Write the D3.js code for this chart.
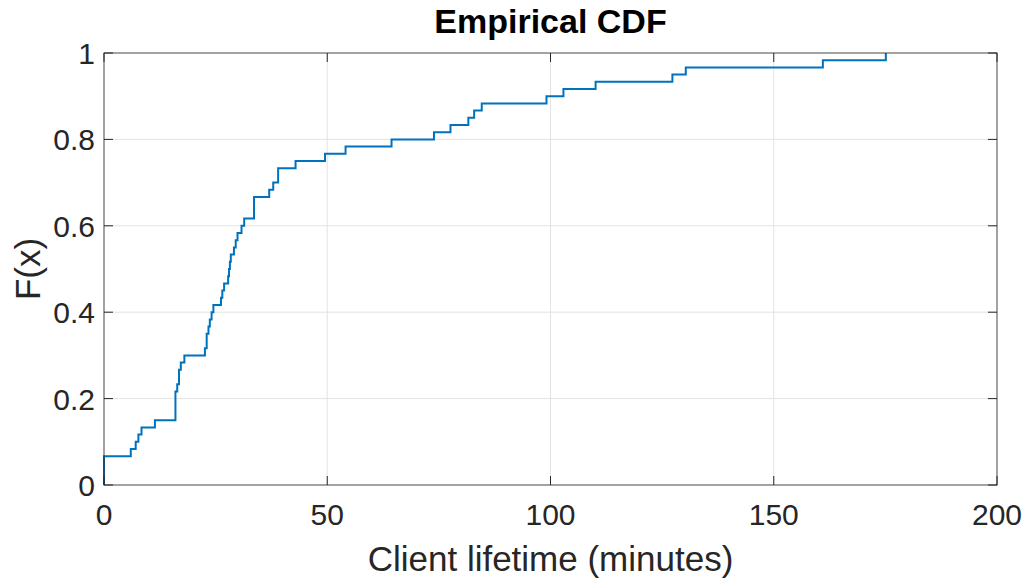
<!DOCTYPE html>
<html><head><meta charset="utf-8">
<script src="https://cdn.jsdelivr.net/npm/d3@7"></script>
<style>body{margin:0;background:#fff}svg{display:block}</style>
</head><body>
<svg id="c" width="1033" height="580"></svg>
<script>
// Sample values (client lifetime, minutes)
const samples = [0,0,0,0,6.0,7.1,7.7,8.4,11.4,
  16.0,16.0,16.0,16.0,16.4,16.8,16.8,17.2,18.0,
  22.6,23.0,23.0,23.4,23.7,24.1,24.5,26.2,26.5,26.9,27.8,28.0,28.2,28.4,29.1,29.5,29.9,30.8,31.4,
  33.6,33.6,33.6,37.0,37.9,39.0,39.0,42.9,49.5,54.1,64.4,73.9,77.6,81.6,82.9,84.6,
  99.1,102.9,110.1,127.3,130.3,161.0,175.1];
const xTicks = [0,50,100,150,200];
const yTicks = [0,0.2,0.4,0.6,0.8,1];
const yTickLabels = ["0","0.2","0.4","0.6","0.8","1"];
const titleText = "Empirical CDF";
const xLabelText = "Client lifetime (minutes)";
const yLabelText = "F(x)";

const svg = d3.select("#c");
const L=104, R=997, T=53, B=485;
const x = d3.scaleLinear().domain([0,200]).range([L,R]);
const y = d3.scaleLinear().domain([0,1]).range([B,T]);
const txt = "#262626", font = "'Liberation Sans', Arial, Helvetica, sans-serif";

// ECDF points
const sorted = samples.slice().sort((a,b)=>a-b);
const n = sorted.length;
const uniq = Array.from(new Set(sorted));
const pts = [[uniq[0],0]].concat(uniq.map(v=>[v, d3.bisectRight(sorted,v)/n]));

// grid
const g = svg.append("g");
g.selectAll("line.gx").data(xTicks.slice(1,-1)).join("line")
  .attr("x1",d=>x(d)).attr("x2",d=>x(d)).attr("y1",T).attr("y2",B)
  .attr("stroke","#e3e3e3").attr("stroke-width",1);
g.selectAll("line.gy").data(yTicks.slice(1,-1)).join("line")
  .attr("x1",L).attr("x2",R).attr("y1",d=>y(d)).attr("y2",d=>y(d))
  .attr("stroke","#e3e3e3").attr("stroke-width",1);

// data line
svg.append("path").datum(pts)
  .attr("d", d3.line().x(d=>x(d[0])).y(d=>y(d[1])).curve(d3.curveStepAfter))
  .attr("fill","none").attr("stroke","#0072BD").attr("stroke-width",2);

// box
svg.append("rect").attr("x",L).attr("y",T).attr("width",R-L).attr("height",B-T)
  .attr("fill","none").attr("stroke","#262626").attr("stroke-width",1).attr("opacity",0.85);

// ticks (inward, all sides)
const tl = 9;
xTicks.forEach(t=>{
  svg.append("line").attr("x1",x(t)).attr("x2",x(t)).attr("y1",B).attr("y2",B-tl).attr("stroke","#262626");
  svg.append("line").attr("x1",x(t)).attr("x2",x(t)).attr("y1",T).attr("y2",T+tl).attr("stroke","#262626");
});
yTicks.forEach(t=>{
  svg.append("line").attr("x1",L).attr("x2",L+tl).attr("y1",y(t)).attr("y2",y(t)).attr("stroke","#262626");
  svg.append("line").attr("x1",R).attr("x2",R-tl).attr("y1",y(t)).attr("y2",y(t)).attr("stroke","#262626");
});

// tick labels
svg.selectAll("text.xt").data(xTicks).join("text")
  .attr("x",d=>x(d)).attr("y",525).attr("text-anchor","middle")
  .attr("font-family",font).attr("font-size",30).attr("fill",txt).text(d=>d);
svg.selectAll("text.yt").data(yTicks).join("text")
  .attr("x",95).attr("y",d=>y(d)+11).attr("text-anchor","end")
  .attr("font-family",font).attr("font-size",30).attr("fill",txt).text((d,i)=>yTickLabels[i]);

// title & labels
svg.append("text").attr("x",(L+R)/2).attr("y",33).attr("text-anchor","middle")
  .attr("font-family",font).attr("font-size",34).attr("font-weight","bold").attr("fill","#000").text(titleText);
svg.append("text").attr("x",(L+R)/2).attr("y",571).attr("text-anchor","middle")
  .attr("font-family",font).attr("font-size",35).attr("fill",txt).text(xLabelText);
svg.append("text").attr("transform",`translate(40,${(T+B)/2}) rotate(-90)`).attr("text-anchor","middle")
  .attr("font-family",font).attr("font-size",35).attr("fill",txt).text(yLabelText);
</script>
</body></html>
